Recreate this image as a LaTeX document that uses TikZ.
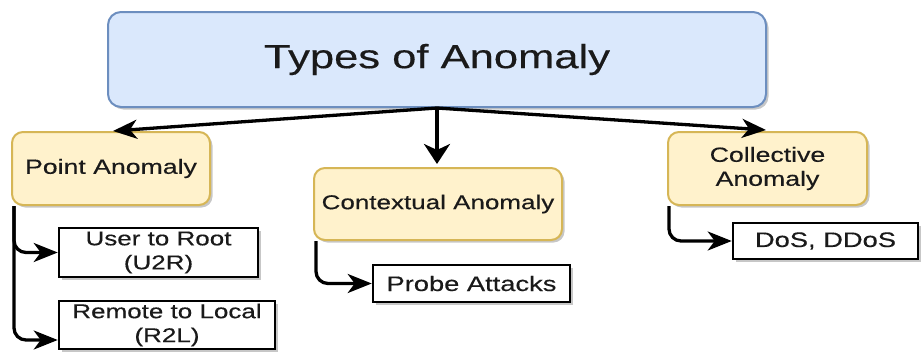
\documentclass[tikz,border=0pt]{standalone}
\usepackage{fontspec}
\setmainfont[FakeStretch=1.3,FakeBold=0.35]{Liberation Sans}
\usetikzlibrary{arrows.meta,shadows}
\definecolor{bluefill}{HTML}{DAE8FC}
\definecolor{bluedraw}{HTML}{6C8EBF}
\definecolor{yelfill}{HTML}{FFF2CC}
\definecolor{yeldraw}{HTML}{D6B656}
\definecolor{txt}{HTML}{1A1A1A}
\tikzset{
  myshadow/.style={drop shadow={shadow xshift=2.5pt, shadow yshift=-2.5pt, fill=black, opacity=0.22}},
  rootbox/.style={draw=bluedraw, fill=bluefill, line width=2pt, rounded corners=13pt, myshadow, inner sep=0pt, text=txt,
    font=\fontsize{33.5}{40}\selectfont},
  typebox/.style={draw=yeldraw, fill=yelfill, line width=2pt, rounded corners=11pt, myshadow, inner sep=0pt, text=txt, align=center,
    font=\fontsize{20.5}{24}\selectfont},
  leafbox/.style={draw=black, fill=white, line width=2.5pt, myshadow, inner sep=0pt, text=txt, align=center,
    font=\fontsize{20}{24}\selectfont},
  harr/.style={line width=3.3pt, -{Stealth[length=24pt, width=19pt, inset=7pt]}},
  varr/.style={line width=3.3pt, -{Stealth[length=20pt, width=26pt, inset=6pt]}},
  child/.style={harr, rounded corners=12pt},
}
\begin{document}
\begin{tikzpicture}[x=1pt, y=-1pt]
\useasboundingbox (0,0) rectangle (924,351);
% nodes
\node[rootbox, minimum width=658pt, minimum height=95pt] (root) at (437,59.5) {Types of Anomaly};
\node[typebox, minimum width=198pt, minimum height=73pt] (point) at (111,168.5) {Point Anomaly};
\node[typebox, minimum width=248pt, minimum height=72pt, font=\fontsize{20}{24}\selectfont] (ctx) at (438,204) {Contextual Anomaly};
\node[typebox, minimum width=199pt, minimum height=73pt] (coll) at (767.5,168.5) {Collective\\Anomaly};
\node[leafbox, minimum width=199pt, minimum height=49pt] (user) at (158.5,252.5) {User to Root\\(U2R)};
\node[leafbox, minimum width=216pt, minimum height=48pt] (remote) at (167,325) {Remote to Local\\(R2L)};
\node[leafbox, minimum width=197pt, minimum height=37pt, font=\fontsize{21}{24}\selectfont] (probe) at (471.5,283.5) {Probe Attacks};
\node[leafbox, minimum width=185pt, minimum height=36pt, font=\fontsize{21}{24}\selectfont] (dos) at (825.5,241) {DoS, DDoS};
% connectors from root
\coordinate (pt) at ([xshift=2pt]point.north);
\coordinate (ct) at ([xshift=-1pt,yshift=3pt]ctx.north);
\coordinate (cl) at ([xshift=-1.5pt,yshift=1pt]coll.north);
\draw[harr] (root.south) -- (pt);
\draw[varr] (root.south) -- (ct);
\draw[harr] (root.south) -- (cl);
% child connectors
\draw[child] ([xshift=3pt]point.south west) |- (user.west);
\draw[child] ([xshift=3pt]point.south west) |- ([yshift=-15pt]remote.west);
\draw[child] ([xshift=3pt]ctx.south west) |- (probe.west);
\draw[child] ([xshift=2pt]coll.south west) |- (dos.west);
\end{tikzpicture}
\end{document}
